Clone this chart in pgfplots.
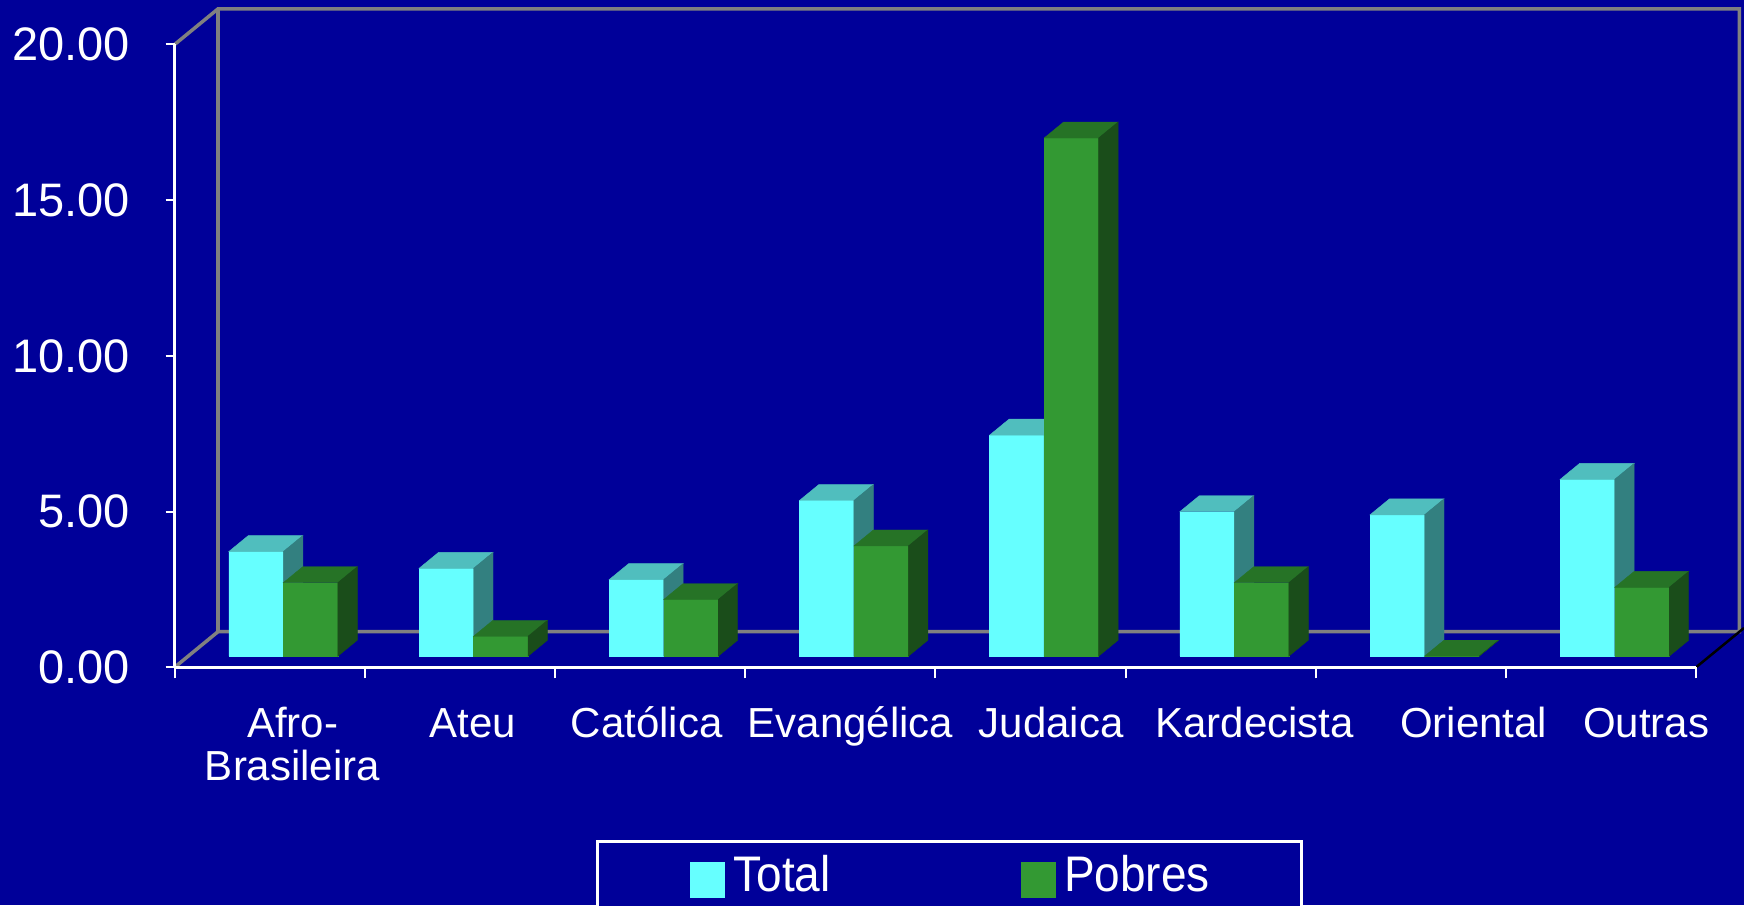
\documentclass[border=0pt]{standalone}
\usepackage{pgfplots}
\pgfplotsset{compat=1.18}
\usepackage{pgfplotstable}
\usepackage{fontspec}
\setmainfont{Liberation Sans}
\newfontfamily\legfont{Liberation Sans}[FakeStretch=0.92]
\definecolor{bg}{RGB}{0,0,153}
\definecolor{totf}{RGB}{102,255,255}
\definecolor{tott}{RGB}{80,190,190}
\definecolor{tots}{RGB}{51,128,128}
\definecolor{pobf}{RGB}{51,153,51}
\definecolor{pobt}{RGB}{38,115,38}
\definecolor{pobs}{RGB}{26,77,26}
\definecolor{framec}{RGB}{128,128,128}

\pgfplotstableread{
idx total pobres
0 3.36 2.36
1 2.82 0.64
2 2.46 1.82
3 5.00 3.54
4 7.10 16.64
5 4.64 2.36
6 4.54 0.00
7 5.68 2.21
}\data

\def\bw{54.5}\def\ddx{19.5}\def\ddy{16}

\pgfplotsset{
  faces/.style n args={5}{%
    scatter, only marks, mark=text, text mark={},
    visualization depends on={\thisrow{#4} \as \val},
    scatter/@pre marker code/.code={%
      \pgfmathsetmacro\hh{\val*31.14}%
      \pgfmathsetmacro\xa{#1}%
      \pgfmathsetmacro\xb{#1+\bw}%
      \pgfmathsetmacro\xc{#1+\bw+\ddx}%
      \pgfmathsetmacro\xd{#1+\ddx}%
      \pgfmathsetmacro\yb{\ddy-\hh}%
      \pgfmathsetmacro\yc{-\hh}%
      \fill[#5] (\xa pt,0pt) rectangle (\xb pt,\yc pt);
      \fill[#2] (\xa pt,0pt) -- (\xb pt,0pt) -- (\xc pt,\ddy pt) -- (\xd pt,\ddy pt) -- cycle;
      \fill[#3] (\xb pt,0pt) -- (\xc pt,\ddy pt) -- (\xc pt,\yb pt) -- (\xb pt,\yc pt) -- cycle;
    },
    scatter/@post marker code/.code={},
  },
}

\begin{document}
\begin{tikzpicture}
\useasboundingbox (0pt,0pt) rectangle (1744pt,905pt);
\fill[bg] (0pt,0pt) rectangle (1744pt,905pt);
% back wall frame
\draw[framec, line width=3.5pt, line join=miter] (174.6pt,860.5pt) -- (218pt,896.1pt) -- (1739.4pt,896.1pt) -- (1739.4pt,273.3pt) -- (218pt,273.3pt) -- (174.6pt,237.7pt);
\draw[framec, line width=3.5pt] (218pt,273.3pt) -- (218pt,896.1pt);
\draw[black, line width=2.5pt] (1696pt,237.7pt) -- (1744pt,277pt);

% front axis
\begin{axis}[
  at={(174.6pt,237.7pt)}, anchor=south west,
  x=190.2pt, y=31.14pt,
  xmin=0, xmax=8, ymin=0, ymax=20,
  enlargelimits=false,
  axis x line*=bottom, axis y line*=left,
  axis line style={white, line width=2.5pt, -},
  ytick={0,5,10,15,20},
  yticklabels={0.00,5.00,10.00,15.00,20.00},
  xtick={0.620,1.567,2.482,3.553,4.608,5.678,6.830,7.737},
  xticklabels={{\begin{tabular}[t]{@{}c@{}}Afro-\\Brasileira\end{tabular}},Ateu,Católica,Evangélica,Judaica,Kardecista,Oriental,Outras},
  minor xtick={0,1,2,3,4,5,6,7,8},
  tick align=outside,
  major tick length=9pt, minor tick length=11pt,
  tick style={white, line width=2pt},
  major x tick style={draw=none},
  yticklabel style={font=\fontsize{47}{50}\selectfont, text=white, anchor=east, inner sep=0pt, xshift=-35.6pt},
  xticklabel style={font=\fontsize{42}{42.3}\selectfont, text=white, anchor=base, inner sep=0pt, yshift=-61pt},
]
\addplot[draw=none, forget plot] coordinates {(0,0)};
\end{axis}

% bars plane
\begin{axis}[
  at={(188.2pt,248.8pt)}, anchor=south west,
  x=190.2pt, y=31.14pt,
  xmin=0, xmax=8, ymin=0, ymax=20,
  hide axis, clip=false,
  legend columns=2,
  legend cell align=left,
  legend style={at={(0.2683,-0.2951)}, anchor=north west, draw=white, line width=3pt, fill=bg,
    inner xsep=92pt, inner ysep=14pt, font=\legfont\fontsize{50}{50}\selectfont, text=white,
    column sep=8pt, /tikz/every even column/.append style={column sep=190pt},
    nodes={inner sep=0pt}},
]
\addplot[ybar, bar width=54.5pt, bar shift=-27.25pt, fill=totf, draw=none,
  legend image code/.code={\fill[totf] (0pt,-23.5pt) rectangle (35.5pt,12pt);}]
  table[x expr=\thisrow{idx}+0.5, y=total]{\data};
\addlegendentry{Total}
\addplot[ybar, bar width=54.5pt, bar shift=27.25pt, fill=pobf, draw=none,
  legend image code/.code={\fill[pobf] (0pt,-23.5pt) rectangle (35.5pt,12pt);}]
  table[x expr=\thisrow{idx}+0.5, y=pobres]{\data};
\addlegendentry{Pobres}
\addplot[faces={-54.5}{tott}{tots}{total}{totf}, forget plot]
  table[x expr=\thisrow{idx}+0.5, y=total]{\data};
\addplot[faces={0}{pobt}{pobs}{pobres}{pobf}, forget plot]
  table[x expr=\thisrow{idx}+0.5, y=pobres]{\data};
\end{axis}
\end{tikzpicture}
\end{document}
